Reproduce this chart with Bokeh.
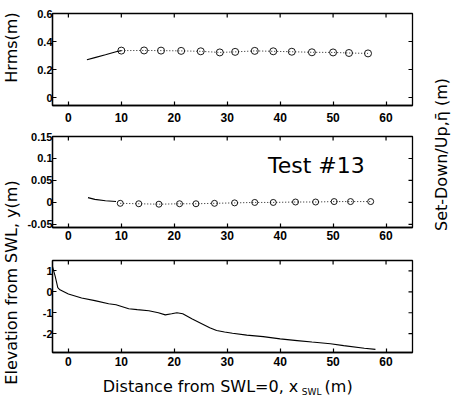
import math
from bokeh.plotting import figure
from bokeh.models import Range1d, LinearAxis, FixedTicker, Label
from bokeh.layouts import row, column
from bokeh.embed import file_html
from bokeh.resources import INLINE

# ---------------- data ----------------
x_ticks = [0, 10, 20, 30, 40, 50, 60]
x_tick_labels = ["0", "10", "20", "30", "40", "50", "60"]

# panel 1: Hrms
hrms_model_x = [3.5, 5.0, 7.0, 9.0, 10.0]
hrms_model_y = [0.27, 0.285, 0.305, 0.327, 0.335]
hrms_obs_x = [10.0, 14.3, 17.5, 21.3, 25.0, 28.6, 31.5, 35.2, 38.7, 42.2, 46.0, 50.0, 53.0, 56.6]
hrms_obs_y = [0.335, 0.336, 0.335, 0.333, 0.33, 0.322, 0.326, 0.333, 0.33, 0.327, 0.323, 0.322, 0.318, 0.315]
y1_ticks = [0, 0.2, 0.4, 0.6]
y1_labels = ["0", "0.2", "0.4", "0.6"]

# panel 2: set-down / set-up
setup_model_x = [3.7, 5.0, 7.0, 9.0]
setup_model_y = [0.011, 0.007, 0.004, 0.002]
setup_obs_x = [9.8, 13.3, 17.1, 21.0, 24.1, 27.6, 31.4, 35.2, 38.7, 42.9, 46.7, 50.2, 53.3, 57.1]
setup_obs_y = [-0.002, -0.003, -0.004, -0.003, -0.003, -0.002, -0.001, 0.0, 0.0, 0.001, 0.001, 0.002, 0.002, 0.002]
y2_ticks = [-0.05, 0, 0.05, 0.1, 0.15]
y2_labels = ["-0.05", "0", "0.05", "0.1", "0.15"]

# panel 3: bathymetry
bed_x = [-3.0, -2.5, -2.0, -1.6, 0.0, 2.5, 5.0, 7.6, 9.0, 11.4, 13.0, 15.2, 17.0, 18.3,
         19.5, 20.5, 21.6, 23.4, 25.0, 26.7, 28.0, 29.5, 31.0, 33.7, 36.8, 40.0, 43.2,
         46.0, 49.5, 52.0, 55.9, 58.0]
bed_y = [1.2, 0.75, 0.2, 0.1, -0.1, -0.29, -0.42, -0.57, -0.62, -0.81, -0.85, -0.9, -1.0, -1.1,
         -1.05, -1.0, -1.05, -1.3, -1.5, -1.72, -1.85, -1.92, -1.98, -2.07, -2.14, -2.25, -2.33,
         -2.4, -2.48, -2.57, -2.7, -2.75]
y3_ticks = [-2, -1, 0, 1]
y3_labels = ["-2", "-1", "0", "1"]

X_MIN, X_MAX = -3, 65
TICK_FONT = "Liberation Sans"
TEXT_FONT = "DejaVu Sans"

LEFT_W = 22
MAIN_W = 394
RIGHT_W = 35
BORDER_L = 30
BORDER_R = 4


def style_axis(ax, size):
    ax.axis_line_color = "black"
    ax.axis_line_width = 1.3
    ax.major_tick_line_color = "black"
    ax.major_tick_line_width = 1.2
    ax.major_tick_in = 4
    ax.major_tick_out = 0
    ax.minor_tick_in = 0
    ax.minor_tick_out = 0
    ax.major_label_text_font = TICK_FONT
    ax.major_label_text_font_size = size
    ax.major_label_text_font_style = "bold"
    ax.major_label_text_color = "black"


def make_panel(height, top, bottom, yr, yticks, ylabels, xstandoff):
    p = figure(width=MAIN_W, height=height, x_range=Range1d(X_MIN, X_MAX), y_range=Range1d(*yr),
               output_backend="svg", toolbar_location=None,
               min_border_left=BORDER_L, min_border_right=BORDER_R, min_border_top=top,
               min_border_bottom=bottom, x_axis_type=None, y_axis_type=None)
    p.outline_line_color = "black"
    p.outline_line_width = 1.3
    p.background_fill_color = "white"
    p.border_fill_color = "white"

    xb = LinearAxis(ticker=FixedTicker(ticks=x_ticks),
                    major_label_overrides=dict(zip(x_ticks, x_tick_labels)))
    style_axis(xb, "12px")
    xb.major_label_standoff = xstandoff
    p.add_layout(xb, "below")

    yl = LinearAxis(ticker=FixedTicker(ticks=yticks),
                    major_label_overrides=dict(zip(yticks, ylabels)))
    style_axis(yl, "11px")
    yl.major_label_standoff = 0
    p.add_layout(yl, "left")

    # inward tick marks on the top and right edges of the box
    p.scatter(x_ticks, [yr[1]] * len(x_ticks), marker="dash", angle=math.pi / 2, size=8,
              line_color="black", line_width=1.2)
    p.scatter([X_MAX] * len(yticks), yticks, marker="dash", size=8,
              line_color="black", line_width=1.2)
    return p


# panel 1
p1 = make_panel(125, 13, 20, (-0.057, 0.6), y1_ticks, y1_labels, 7)
p1.line(hrms_model_x, hrms_model_y, line_color="black", line_width=1.1)
p1.line(hrms_obs_x, hrms_obs_y, line_color="black", line_width=0.9, line_dash="1 2")
p1.scatter(hrms_obs_x, hrms_obs_y, marker="circle", size=7, fill_color=None,
           line_color="black", line_width=0.9)

# panel 2
p2 = make_panel(122, 11, 20, (-0.057, 0.15), y2_ticks, y2_labels, 3)
p2.line(setup_model_x, setup_model_y, line_color="black", line_width=1.1)
p2.line(setup_obs_x, setup_obs_y, line_color="black", line_width=0.9, line_dash="1 2")
p2.scatter(setup_obs_x, setup_obs_y, marker="circle", size=6, fill_color=None,
           line_color="black", line_width=0.9)
p2.add_layout(Label(x=37.7, y=0.084, text="Test #13", text_font=TEXT_FONT,
                    text_font_size="22px", text_color="black", text_baseline="alphabetic",
                    text_align="left"))

# panel 3
p3 = make_panel(124, 13, 19, (-2.9, 1.5), y3_ticks, y3_labels, 4)
p3.line(bed_x, bed_y, line_color="black", line_width=1.1)

# bottom strip: x-axis title with subscript, on the same x scale as panel 3
BOT_H = 29
bf = figure(width=MAIN_W, height=BOT_H, x_range=Range1d(X_MIN, X_MAX), y_range=Range1d(0, BOT_H),
            output_backend="svg", toolbar_location=None, min_border_left=BORDER_L,
            min_border_right=BORDER_R, min_border_top=0, min_border_bottom=0,
            x_axis_type=None, y_axis_type=None)
bf.outline_line_color = None
bf.grid.visible = False
bf.add_layout(Label(x=6.5, y=14, text="Distance from SWL=0, x", text_font=TEXT_FONT,
                    text_font_size="16px", text_color="black", text_baseline="middle"))
bf.add_layout(Label(x=44.1, y=9, text="SWL", text_font=TEXT_FONT,
                    text_font_size="9px", text_color="black", text_baseline="middle"))
bf.add_layout(Label(x=48.4, y=14, text="(m)", text_font=TEXT_FONT,
                    text_font_size="16px", text_color="black", text_baseline="middle"))

TOTAL_H = 125 + 122 + 124 + BOT_H

# left label strip
lf = figure(width=LEFT_W, height=TOTAL_H, x_range=Range1d(0, LEFT_W), y_range=Range1d(0, TOTAL_H),
            output_backend="svg", toolbar_location=None, min_border=0,
            x_axis_type=None, y_axis_type=None)
lf.outline_line_color = None
lf.grid.visible = False
lf.add_layout(Label(x=11, y=TOTAL_H - 47, text="Hrms(m)", angle=math.pi / 2,
                    text_align="center", text_baseline="middle", text_font=TEXT_FONT,
                    text_font_size="16px", text_color="black"))
lf.add_layout(Label(x=11, y=TOTAL_H - 282, text="Elevation from SWL, y(m)",
                    angle=math.pi / 2, text_align="center", text_baseline="middle",
                    text_font=TEXT_FONT, text_font_size="16px", text_color="black"))

# right label strip
rf = figure(width=RIGHT_W, height=TOTAL_H, x_range=Range1d(0, RIGHT_W), y_range=Range1d(0, TOTAL_H),
            output_backend="svg", toolbar_location=None, min_border=0,
            x_axis_type=None, y_axis_type=None)
rf.outline_line_color = None
rf.grid.visible = False
rf.add_layout(Label(x=441 - LEFT_W - MAIN_W, y=TOTAL_H - 154, text="Set-Down/Up,\u03b7\u0304 (m)",
                    angle=math.pi / 2, text_align="center", text_baseline="middle",
                    text_font=TEXT_FONT, text_font_size="16px", text_color="black"))

layout = row(lf, column(p1, p2, p3, bf, spacing=0), rf, spacing=0)

open("out.html", "w").write(file_html(layout, INLINE))
